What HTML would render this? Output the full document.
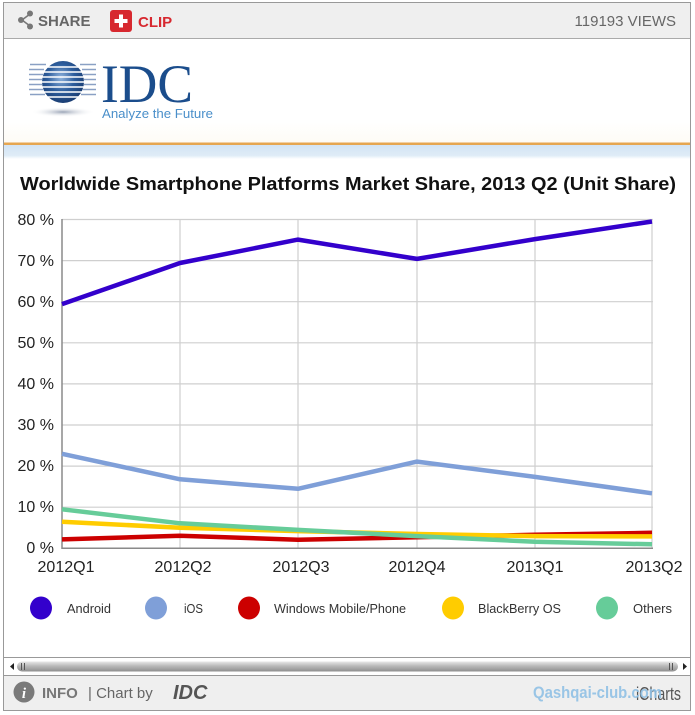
<!DOCTYPE html>
<html><head><meta charset="utf-8"><style>
html,body{margin:0;padding:0;background:#fff;}
svg{display:block;font-family:"Liberation Sans",Arial,sans-serif;}
</style></head><body>
<svg width="695" height="715" viewBox="0 0 695 715" xmlns="http://www.w3.org/2000/svg">
<defs>
<linearGradient id="band" x1="0" y1="0" x2="0" y2="1">
<stop offset="0" stop-color="#d3e4f4"/><stop offset="0.75" stop-color="#dfecf7"/><stop offset="1" stop-color="#ffffff"/>
</linearGradient>
<linearGradient id="fade" x1="0" y1="0" x2="0" y2="1">
<stop offset="0" stop-color="#ffffff"/><stop offset="0.8" stop-color="#ffffff"/><stop offset="1" stop-color="#fefbf5"/>
</linearGradient>
<linearGradient id="sb" x1="0" y1="0" x2="0" y2="1">
<stop offset="0" stop-color="#e8e8e8"/><stop offset="0.45" stop-color="#b9b9b9"/><stop offset="1" stop-color="#8e8e8e"/>
</linearGradient>
<radialGradient id="globe" cx="0.45" cy="0.4" r="0.65">
<stop offset="0" stop-color="#8fb3dd"/><stop offset="0.5" stop-color="#2d5d9c"/><stop offset="1" stop-color="#17386c"/>
</radialGradient>
<radialGradient id="shadow" cx="0.5" cy="0.5" r="0.5">
<stop offset="0" stop-color="#9aa4b6"/><stop offset="1" stop-color="#ffffff" stop-opacity="0"/>
</radialGradient>
</defs>

<!-- outer frame -->
<rect x="3.5" y="2.5" width="687" height="708" fill="#fff" stroke="#999" stroke-width="1"/>
<!-- top bar -->
<rect x="4" y="3" width="686" height="35" fill="#efefef"/>
<line x1="4" y1="38.5" x2="690" y2="38.5" stroke="#aaa"/>
<!-- share icon -->
<g fill="#777" stroke="#777" stroke-width="1.6">
<line x1="22" y1="20" x2="30" y2="14"/><line x1="22" y1="20" x2="30" y2="26"/>
<circle cx="21" cy="20" r="3" stroke="none"/><circle cx="30" cy="13.5" r="3" stroke="none"/><circle cx="30" cy="26.5" r="3" stroke="none"/>
</g>
<text x="38" y="26" font-size="15" font-weight="bold" fill="#666">SHARE</text>
<rect x="110" y="10" width="22" height="22" rx="3" fill="#d7282f"/>
<rect x="114.5" y="19" width="13" height="4" fill="#fff"/><rect x="119" y="14.5" width="4" height="13" fill="#fff"/>
<text x="138" y="27" font-size="15" font-weight="bold" fill="#d7282f">CLIP</text>
<text x="676" y="26" font-size="15" fill="#666" text-anchor="end">119193 VIEWS</text>

<!-- logo area -->
<rect x="4" y="39" width="686" height="104" fill="url(#fade)"/>
<ellipse cx="63" cy="112" rx="32" ry="5" fill="url(#shadow)"/>
<g>
<circle cx="63" cy="82" r="21" fill="url(#globe)"/>
<g stroke="#fff" stroke-width="1.6">
<line x1="40" y1="67" x2="86" y2="67"/><line x1="40" y1="72" x2="86" y2="72"/><line x1="40" y1="77" x2="86" y2="77"/>
<line x1="40" y1="82" x2="86" y2="82"/><line x1="40" y1="87" x2="86" y2="87"/><line x1="40" y1="92" x2="86" y2="92"/><line x1="40" y1="97" x2="86" y2="97"/>
</g>
<g stroke="#8aa0c4" stroke-width="1.5">
<line x1="30" y1="64.5" x2="46" y2="64.5"/><line x1="29" y1="69.5" x2="44" y2="69.5"/><line x1="29" y1="74.5" x2="43" y2="74.5"/><line x1="29" y1="79.5" x2="42" y2="79.5"/>
<line x1="29" y1="84.5" x2="42" y2="84.5"/><line x1="29" y1="89.5" x2="43" y2="89.5"/><line x1="30" y1="94.5" x2="45" y2="94.5"/>
<line x1="80" y1="64.5" x2="96" y2="64.5"/><line x1="82" y1="69.5" x2="96" y2="69.5"/><line x1="83" y1="74.5" x2="96" y2="74.5"/><line x1="84" y1="79.5" x2="96" y2="79.5"/>
<line x1="84" y1="84.5" x2="96" y2="84.5"/><line x1="83" y1="89.5" x2="96" y2="89.5"/><line x1="81" y1="94.5" x2="96" y2="94.5"/>
</g>
</g>
<text x="101" y="102" font-family="Liberation Serif,serif" font-size="54" fill="#1b4d8c" textLength="92" lengthAdjust="spacingAndGlyphs">IDC</text>
<text x="102" y="118" font-size="13" fill="#4a8fca" textLength="111" lengthAdjust="spacingAndGlyphs">Analyze the Future</text>
<rect x="4" y="142.5" width="686" height="2.5" fill="#e6a650"/>
<rect x="4" y="145" width="686" height="14" fill="url(#band)"/>

<!-- title -->
<text x="20" y="190" font-size="18" font-weight="bold" fill="#111" textLength="656" lengthAdjust="spacingAndGlyphs">Worldwide Smartphone Platforms Market Share, 2013 Q2 (Unit Share)</text>

<!-- grid -->
<g stroke="#cfcfcf" stroke-width="1.2">
<line x1="62" y1="219.5" x2="653" y2="219.5"/><line x1="62" y1="260.6" x2="653" y2="260.6"/>
<line x1="62" y1="301.7" x2="653" y2="301.7"/><line x1="62" y1="342.8" x2="653" y2="342.8"/>
<line x1="62" y1="383.9" x2="653" y2="383.9"/><line x1="62" y1="425" x2="653" y2="425"/>
<line x1="62" y1="466.1" x2="653" y2="466.1"/><line x1="62" y1="507.2" x2="653" y2="507.2"/>
<line x1="180" y1="219" x2="180" y2="548"/><line x1="298" y1="219" x2="298" y2="548"/>
<line x1="417" y1="219" x2="417" y2="548"/><line x1="535" y1="219" x2="535" y2="548"/>
<line x1="652" y1="219" x2="652" y2="548"/>
</g>
<g stroke="#8a8a8a" stroke-width="1.5">
<line x1="62" y1="219" x2="62" y2="549"/><line x1="62" y1="548.3" x2="653" y2="548.3"/>
</g>
<!-- y labels -->
<g font-size="16" fill="#222" text-anchor="end">
<text x="54" y="225">80 %</text><text x="54" y="266">70 %</text><text x="54" y="307">60 %</text>
<text x="54" y="348">50 %</text><text x="54" y="389">40 %</text><text x="54" y="430">30 %</text>
<text x="54" y="471">20 %</text><text x="54" y="512">10 %</text><text x="54" y="553">0 %</text>
</g>
<!-- x labels -->
<g font-size="16" fill="#222" text-anchor="middle">
<text x="66" y="572">2012Q1</text><text x="183" y="572">2012Q2</text><text x="301" y="572">2012Q3</text>
<text x="417" y="572">2012Q4</text><text x="535" y="572">2013Q1</text><text x="654" y="572">2013Q2</text>
</g>

<!-- series -->
<g fill="none" stroke-width="4.5" stroke-linejoin="round">
<polyline stroke="#3300cc" points="62,304.1 180,263 298,239.6 417,258.9 535,239.1 652,221.5"/>
<polyline stroke="#7f9fd8" points="62,453.8 180,479.3 298,488.8 417,461.6 535,476.9 652,493.3"/>
<polyline stroke="#cc0000" points="62,539.4 180,535.7 298,539.8 417,537.3 535,534.8 652,532.8"/>
<polyline stroke="#ffcc00" points="62,521.7 180,527.8 298,531.1 417,534 535,536.1 652,536.4"/>
<polyline stroke="#66cc99" points="62,509.3 180,523.3 298,529.9 417,536.1 535,541.8 652,544.3"/>
</g>

<!-- legend -->
<g>
<ellipse cx="41" cy="608" rx="11" ry="11.5" fill="#3300cc"/>
<ellipse cx="156" cy="608" rx="11" ry="11.5" fill="#7f9fd8"/>
<ellipse cx="249" cy="608" rx="11" ry="11.5" fill="#cc0000"/>
<ellipse cx="453" cy="608" rx="11" ry="11.5" fill="#ffcc00"/>
<ellipse cx="607" cy="608" rx="11" ry="11.5" fill="#66cc99"/>
</g>
<g font-size="13" fill="#333">
<text x="67" y="613" textLength="44" lengthAdjust="spacingAndGlyphs">Android</text>
<text x="184" y="613" textLength="19" lengthAdjust="spacingAndGlyphs">iOS</text>
<text x="274" y="613" textLength="132" lengthAdjust="spacingAndGlyphs">Windows Mobile/Phone</text>
<text x="478" y="613" textLength="83" lengthAdjust="spacingAndGlyphs">BlackBerry OS</text>
<text x="633" y="613" textLength="39" lengthAdjust="spacingAndGlyphs">Others</text>
</g>

<!-- scrollbar area -->
<line x1="4" y1="657.5" x2="690" y2="657.5" stroke="#999"/>
<polygon points="10,666.5 14,663 14,670" fill="#222"/>
<rect x="17" y="661.5" width="661" height="10" rx="5" fill="url(#sb)"/>
<g stroke="#555" stroke-width="1"><line x1="21.5" y1="663" x2="21.5" y2="670"/><line x1="24.5" y1="663" x2="24.5" y2="670"/><line x1="669.5" y1="663" x2="669.5" y2="670"/><line x1="672.5" y1="663" x2="672.5" y2="670"/></g>
<polygon points="683,663 687,666.5 683,670" fill="#222"/>
<line x1="4" y1="675.5" x2="690" y2="675.5" stroke="#999"/>
<!-- footer -->
<rect x="4" y="676" width="686" height="34" fill="#efefef"/>
<circle cx="24" cy="692" r="10.5" fill="#7a7a7a"/>
<text x="24" y="698" font-size="15" font-weight="bold" font-style="italic" fill="#fff" text-anchor="middle" font-family="Liberation Serif,serif">i</text>
<text x="42" y="698" font-size="15" font-weight="bold" fill="#777">INFO</text>
<text x="88" y="698" font-size="15" fill="#666">| Chart by</text>
<text x="173" y="699" font-size="20" font-weight="bold" font-style="italic" fill="#555">IDC</text>
<text x="636" y="700" font-size="18" fill="#555" textLength="45" lengthAdjust="spacingAndGlyphs">iCharts</text>
<text x="533" y="698" font-size="17" font-weight="bold" fill="#8fc0e4" fill-opacity="0.9" textLength="129" lengthAdjust="spacingAndGlyphs">Qashqai-club.com</text>
</svg>
</body></html>
